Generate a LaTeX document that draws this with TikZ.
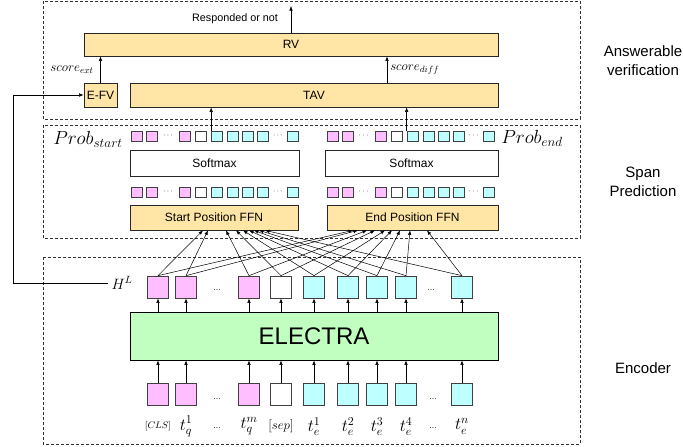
\documentclass[tikz,border=0pt]{standalone}
\usepackage{fix-cm}
\usepackage{fontspec}
\setmainfont{Liberation Sans}
\usetikzlibrary{arrows.meta,calc}
\definecolor{pinkc}{RGB}{255,190,255}
\definecolor{cyanc}{RGB}{190,255,255}
\definecolor{greenc}{RGB}{192,255,192}
\definecolor{yellowc}{RGB}{255,230,166}
\tikzset{
  >={Latex[length=4.5pt,width=3.5pt]},
  dashframe/.style={dash pattern=on 3pt off 2pt, line width=0.7pt, draw=black!80},
  ybox/.style={draw=black!85, line width=0.7pt, fill=yellowc, inner sep=0pt, font=\fontsize{12}{14}\selectfont},
  wbox/.style={draw=black!85, line width=0.7pt, fill=white, inner sep=0pt, font=\fontsize{12}{14}\selectfont},
  sq/.style={draw=black!75, line width=0.7pt, minimum width=11pt, minimum height=10pt, inner sep=0pt},
  hsq/.style={draw=black!75, line width=0.7pt, minimum width=21pt, minimum height=22pt, inner sep=0pt},
  pk/.style={fill=pinkc}, cy/.style={fill=cyanc}, wt/.style={fill=white},
  sectlabel/.style={align=center, font=\fontsize{15}{19}\selectfont},
  lbl/.style={inner sep=0pt, font=\fontsize{17}{17}\selectfont},
  dots/.style={inner sep=0pt, font=\fontsize{8}{8}\selectfont},
}
\begin{document}
\begin{tikzpicture}[x=1pt,y=-1pt,line width=0.5pt]
    \useasboundingbox (0,0) rectangle (683,447);

    % frames
    \draw[dashframe] (43,1) rectangle (580,119);
    \draw[dashframe] (43,125) rectangle (580,238);
    \draw[dashframe] (43,257) rectangle (580,444);

    \node[sectlabel] (lav) at (643,61) {Answerable\\verification};
    \node[sectlabel] (lsp) at (643,182) {Span\\Prediction};
    \node[sectlabel] (lenc) at (643,368) {Encoder};

    % answerable verification
    \node[ybox, minimum width=414pt, minimum height=23pt] (rv) at (291,44.5) {RV};
    \node[ybox, minimum width=33pt, minimum height=24pt] (efv) at (100.5,95) {E-FV};
    \node[ybox, minimum width=368pt, minimum height=24pt] (tav) at (314,95) {TAV};
    \node[font=\fontsize{10.8}{12}\selectfont] (resp) at (235,19) {Responded or not};
    \coordinate (rvout) at (291,6);
    \draw[->] (rv.north) -- (rvout);
    \draw[->] (efv.north) -- (efv.north |- rv.south);
    \node[font=\fontsize{13}{14}\selectfont] (sext) at (72,70) {$score_{ext}$};
    \coordinate (dif) at (387,0);
    \draw[->] (dif |- tav.north) -- (dif |- rv.south);
    \node[anchor=west, inner sep=0pt, font=\fontsize{13}{14}\selectfont] (sdiff) at (390,70) {$score_{diff}$};

    % span prediction
    \node[wbox, minimum width=169pt, minimum height=26pt] (lsm) at (214.5,163) {Softmax};
    \node[wbox, minimum width=173pt, minimum height=26pt] (rsm) at (411.5,163) {Softmax};
    \node[ybox, minimum width=168pt, minimum height=25pt] (sffn) at (214,217.5) {Start Position FFN};
    \node[ybox, minimum width=171pt, minimum height=25pt] (effn) at (412.5,217.5) {End Position FFN};
    \node[font=\fontsize{19}{20}\selectfont] (pstart) at (88,139) {$Prob_{start}$};
    \node[font=\fontsize{19}{20}\selectfont] (pend) at (532,138) {$Prob_{end}$};

    \foreach \g/\gx in {l/137,r/332.5}
      \foreach \r/\ry in {a/136,b/192} {
        \foreach \k/\dx/\c in {1/0/pk,2/15/pk,3/48/pk,4/64/wt,5/80/cy,6/96/cy,7/111/cy,8/126/cy,9/156/cy}
          \node[sq,\c] (\g\r\k) at (\gx+\dx,\ry) {};
        \node[dots] (\g\r d1) at (\gx+31,\ry) {$\cdots$};
        \node[dots] (\g\r d2) at (\gx+141,\ry) {$\cdots$};
      }

    \draw[->] (la5.north west) -- (la5.north west |- tav.south);
    \draw[->] (ra5.north west) -- (ra5.north west |- tav.south);

    % encoder
    \node[draw, line width=0.7pt, fill=greenc, minimum width=368pt, minimum height=48pt, font=\fontsize{24}{26}\selectfont] (electra) at (314,336) {ELECTRA};
    \node[font=\fontsize{15}{16}\selectfont] (hl) at (122,283) {$H^L$};

    \foreach \i/\hx/\c in {1/158/pk,2/186/pk,3/249/pk,4/281/wt,5/314/cy,6/348/cy,7/377/cy,8/406/cy,9/462/cy} {
      \node[hsq,\c] (h\i) at (\hx,287) {};
      \node[hsq,\c] (x\i) at (\hx,394) {};
      \draw[->] (h\i |- electra.north) -- (h\i.south);
      \draw[->] (x\i.north) -- (x\i |- electra.south);
    }
    \node[dots] (hd1) at (217,290) {\ldots};
    \node[dots] (hd2) at (431,290) {\ldots};
    \node[dots] (xd1) at (217,399) {\ldots};
    \node[dots] (xd2) at (433,399) {\ldots};
    \node[dots] (ld1) at (217,428) {\ldots};
    \node[dots] (ld2) at (433,428) {\ldots};

    \foreach \i/\t in {1/{\fontsize{9.5}{10}\selectfont$[CLS]$},2/{$t_q^1$},3/{$t_q^m$},4/{\fontsize{13}{14}\selectfont$[sep]$},5/{$t_e^1$},6/{$t_e^2$},7/{$t_e^3$},8/{$t_e^4$},9/{$t_e^n$}}
      \node[lbl] (l\i) at ([yshift=-21pt]x\i.south) {\t};

    % hidden states to both FFNs
    \foreach \i/\s/\e in {1/203/353,2/208/358,3/226/367,4/236/375,5/243/385,6/249/392,7/254/400,8/259/410,9/265/427} {
      \draw[->] (h\i.north) -- (\s,0 |- sffn.south);
      \draw[->] (h\i.north) -- (\e,0 |- effn.south);
    }

    \coordinate (bend) at (13,0);
    \draw[->] (hl.west) -- (bend |- hl.west) -- (bend |- efv.west) -- (efv.west);
\end{tikzpicture}
\end{document}
